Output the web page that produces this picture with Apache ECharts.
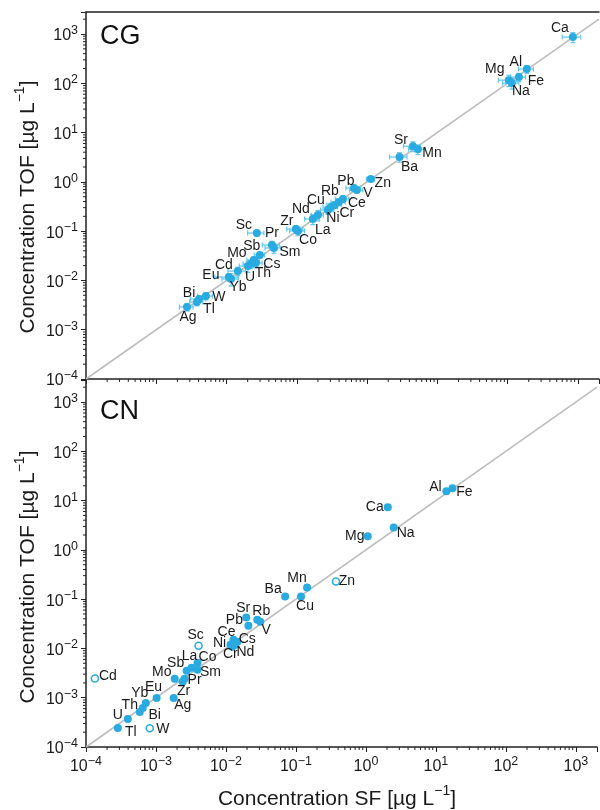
<!DOCTYPE html>
<html><head><meta charset="utf-8">
<script src="https://cdn.jsdelivr.net/npm/echarts@6/dist/echarts.min.js"></script>
<style>html,body{margin:0;padding:0;background:#fff}#c{width:600px;height:810px}</style>
</head><body><div id="c"></div>
<script>
// ---------- data: panel CG ----------
const elementsCG = ['Ca','Al','Fe','Mg','Na','Sr','Mn','Ba','Zn','Pb','V','Ni','Cu','Cr','Rb','Ce','Nd','La','Zr','Co','Sc','Pr','Sm','Sb','Mo','Cs','Th','U','Cd','Eu','Yb','Bi','W','Tl','Ag'];
const sfCG   = [850,188,145,104,115,4.5,5.3,2.9,1.13,0.65,0.716,0.277,0.306,0.348,0.397,0.453,0.20,0.169,0.097,0.104,0.027,0.0443,0.0473,0.0298,0.0245,0.0262,0.0222,0.0202,0.0145,0.0108,0.0116,0.00406,0.00509,0.00379,0.00274];
const tofCG  = [868,195,134,116,101,5.3,4.6,3.2,1.14,0.75,0.682,0.269,0.309,0.339,0.390,0.449,0.212,0.176,0.110,0.101,0.0916,0.0524,0.0455,0.0328,0.0259,0.0225,0.0215,0.0196,0.0155,0.0117,0.0107,0.0042,0.00483,0.00365,0.00289];
const sfErrCG  = [250,45,35,30,30,1.2,1.4,0.8,0.15,0.15,0.15,0.06,0.07,0.08,0.09,0.10,0.04,0.04,0.025,0.025,0.007,0.012,0.012,0.005,0.005,0.006,0.005,0.005,0.004,0.004,0.003,0.001,0.0012,0.0008,0.0006];
const tofErrCG = [200,35,25,30,25,1.2,1.0,0.7,0.10,0.10,0.08,0.05,0.06,0.05,0.06,0.07,0.05,0.04,0.02,0.02,0.012,0.01,0.01,0.004,0.004,0.004,0.004,0.005,0.003,0.002,0.003,0.0006,0.0008,0.0006,0.0005];

// ---------- data: panel CN ----------
const elementsCN = ['Al','Fe','Ca','Na','Mg','Zn','Mn','Cu','Ba','Sr','Pb','Rb','V','Ce','Cs','Ni','Cr','Nd','Sc','Co','La','Sm','Sb','Mo','Pr','Zr','Ag','Eu','Yb','Th','Bi','U','Tl','W','Cd'];
const sfCN  = [14.1,17.2,2.05,2.49,1.06,0.373,0.144,0.118,0.070,0.0195,0.0209,0.028,0.0309,0.0128,0.0145,0.0116,0.0123,0.0136,0.00406,0.00392,0.00322,0.00392,0.00274,0.00185,0.00256,0.0024,0.00179,0.00102,0.000715,0.000647,0.000586,0.000396,0.000285,0.000815,0.000134];
const tofCN = [15.5,17.8,7.3,2.86,1.88,0.228,0.172,0.113,0.113,0.0422,0.029,0.0384,0.035,0.0150,0.0137,0.0119,0.0108,0.0119,0.01135,0.00512,0.00406,0.00369,0.00352,0.00242,0.00242,0.0021,0.00099,0.00099,0.000785,0.000622,0.000515,0.000371,0.000244,0.00024,0.00245];
const sfErrCN  = [0.8,1.0,0.2,0.1,0.05,0.01,0.005,0.004,0.003,0.0008,0.0008,0.001,0.001,0.0005,0.0005,0.0005,0.0005,0.0005,0.0002,0.0002,0.0001,0.0002,0.0001,0.0001,0.0001,0.0001,0.0001,0.00005,0.00003,0.00003,0.00003,0.00002,0.00001,0.00003,0.00001];
const tofErrCN = [0.6,0.7,0.3,0.1,0.08,0.008,0.006,0.004,0.004,0.0015,0.001,0.0015,0.001,0.0005,0.0005,0.0005,0.0004,0.0004,0.0004,0.0002,0.0002,0.0001,0.0001,0.0001,0.0001,0.0001,0.00004,0.00004,0.00003,0.00002,0.00002,0.00001,0.00001,0.00001,0.0001];
const openCN = ['Zn','Sc','W','Cd'];

// ---------- axes ----------
const xRange = [0.0001, 2000];
const yRange = [0.0001, 2800];
const oneToOne = [0.0001, 2000];
const panelNames = ['CG','CN'];
const xTitle = 'Concentration SF [µg L{s|\u22121}]';
const yTitle = 'Concentration TOF [µg L{s|\u22121}]';

// ---------- label placement (style) ----------
const offCG = {Ca:[-13,-9],Al:[-11,-7],Fe:[17,4],Mg:[-14,-11],Na:[9,8],Sr:[-12,-6],Mn:[14,4],Ba:[10,10],Zn:[12,4],Pb:[-8,-7],V:[11,3],Rb:[-9,-11],Cu:[-15,-7],Ce:[14,4],Ni:[5,8],Cr:[12,8],Nd:[-17,-6],La:[10,11],Zr:[-9,-8],Co:[10,9],Sc:[-13,-8],Pr:[0,-12],Sm:[16,4],Sb:[-8,-9],Mo:[-17,-7],Cs:[16,1],Cd:[-14,-6],Th:[12,9],U:[2,11],Eu:[-18,-2],Yb:[7,8],Bi:[-10,-6],W:[13,1],Tl:[12,7],Ag:[1,10]};
const offCN = {Al:[-11,-4],Fe:[12,4],Ca:[-13,0],Na:[12,6],Mg:[-13,0],Zn:[11,0],Mn:[-10,-9],Cu:[4,10],Ba:[-12,-7],Sr:[-3,-9],Pb:[-14,-6],Rb:[4,-9],V:[6,9],Ce:[-7,-8],Cs:[10,-3],Ni:[-11,-2],Cr:[-2,7],Nd:[10,7],Sc:[-3,-11],Co:[10,-6],La:[-2,-12],Sm:[13,2],Sb:[-11,-8],Mo:[-13,-7],Pr:[10,1],Zr:[1,9],Ag:[9,7],Eu:[-3,-11],Yb:[-6,-10],Th:[-13,-3],Bi:[15,3],U:[-10,-4],Tl:[13,4],W:[13,1],Cd:[13,-2]};

const BLUE = '#29abe2', ERR = '#62c6ef', AX = '#222', TXT = '#1a1a1a';
const FONT = '"Liberation Sans", Arial, sans-serif';

function fmtLog(v){
  const l = Math.log10(v), e = Math.round(l);
  if (Math.abs(l - e) > 1e-6) return '';
  return '{b|10}{s|' + (e < 0 ? '\u2212' + (-e) : e) + '}';
}
const richTick = {
  b:{fontSize:16, lineHeight:20, verticalAlign:'bottom', color:TXT, fontFamily:FONT},
  s:{fontSize:12.5, lineHeight:13, verticalAlign:'top', color:TXT, fontFamily:FONT}
};

function xAxisCfg(g, showLabels){
  return {type:'log', logBase:10, gridIndex:g, min:xRange[0], max:xRange[1], position:'bottom',
    axisLine:{show:true, onZero:false, lineStyle:{color:AX, width:1.5}},
    axisTick:{show:true, inside:false, length:5, lineStyle:{color:AX, width:1}},
    axisLabel:{show:showLabels, margin:8, formatter:fmtLog, rich:richTick},
    splitLine:{show:false}, minorTick:{show:false}};
}
function yAxisCfg(g){
  return {type:'log', logBase:10, gridIndex:g, min:yRange[0], max:yRange[1], position:'left',
    axisLine:{show:true, onZero:false, lineStyle:{color:AX, width:1.5}},
    axisTick:{show:true, inside:false, length:5, lineStyle:{color:AX, width:1}},
    axisLabel:{show:true, margin:8, formatter:fmtLog, rich:richTick},
    splitLine:{show:false}, minorTick:{show:false}};
}

// minor tick positions (2..9 x 10^n)
const minorVals = [];
for (let e = -4; e < 4; e++) for (let m = 2; m <= 9; m++) minorVals.push(+(m * Math.pow(10, e)).toPrecision(6));

function yMinorSeries(g){
  return {type:'custom', xAxisIndex:g, yAxisIndex:g, silent:true, clip:false, z:5,
    data: minorVals.filter(v => v < yRange[1]).map(v => [xRange[0], v]),
    renderItem:(p, api) => { const pt = api.coord([api.value(0), api.value(1)]);
      return {type:'line', shape:{x1:pt[0]-3, y1:pt[1], x2:pt[0], y2:pt[1]}, style:{stroke:AX, lineWidth:1}}; }};
}
function xMinorSeries(g){
  return {type:'custom', xAxisIndex:g, yAxisIndex:g, silent:true, clip:false, z:5,
    data: minorVals.filter(v => v < xRange[1]).map(v => [v, yRange[0]]),
    renderItem:(p, api) => { const pt = api.coord([api.value(0), api.value(1)]);
      return {type:'line', shape:{x1:pt[0], y1:pt[1], x2:pt[0], y2:pt[1]+3}, style:{stroke:AX, lineWidth:1}}; }};
}
function errSeries(g, xs, ys, ex, ey){
  return {type:'custom', xAxisIndex:g, yAxisIndex:g, silent:true, clip:false, z:2,
    data: xs.map((x, i) => [x, ys[i], ex[i], ey[i]]),
    renderItem:(p, api) => {
      const x = api.value(0), y = api.value(1), dx = api.value(2), dy = api.value(3);
      const st = {stroke:ERR, lineWidth:1.2};
      const ch = [];
      const l = api.coord([x - dx, y]), r = api.coord([x + dx, y]);
      const t = api.coord([x, y + dy]), b = api.coord([x, y - dy]);
      const c = 2.5;
      ch.push({type:'line', shape:{x1:l[0], y1:l[1], x2:r[0], y2:r[1]}, style:st});
      ch.push({type:'line', shape:{x1:l[0], y1:l[1]-c, x2:l[0], y2:l[1]+c}, style:st});
      ch.push({type:'line', shape:{x1:r[0], y1:r[1]-c, x2:r[0], y2:r[1]+c}, style:st});
      ch.push({type:'line', shape:{x1:t[0], y1:t[1], x2:b[0], y2:b[1]}, style:st});
      ch.push({type:'line', shape:{x1:t[0]-c, y1:t[1], x2:t[0]+c, y2:t[1]}, style:st});
      ch.push({type:'line', shape:{x1:b[0]-c, y1:b[1], x2:b[0]+c, y2:b[1]}, style:st});
      return {type:'group', children:ch};
    }};
}
function scatterSeries(g, names, xs, ys, offs, open){
  return {type:'scatter', xAxisIndex:g, yAxisIndex:g, symbol:'circle', symbolSize:8, z:4, silent:true,
    itemStyle:{color:BLUE, opacity:1},
    label:{show:true, position:'inside', formatter:'{b}', fontSize:14, color:TXT, fontFamily:FONT},
    data: names.map((n, i) => {
      const o = {name:n, value:[xs[i], ys[i]], label:{offset:offs[n] || [0,-10]}};
      if (open && open.indexOf(n) >= 0) { o.itemStyle = {color:'#fff', borderColor:BLUE, borderWidth:1.6}; o.symbolSize = 7; }
      return o;
    })};
}
function diagSeries(g){
  return {type:'line', xAxisIndex:g, yAxisIndex:g, silent:true, symbol:'none', z:1,
    lineStyle:{color:'#bdbdbd', width:1.6},
    data: oneToOne.map(v => [v, v])};
}

const richTitle = {
  b:{fontSize:21, lineHeight:25, verticalAlign:'bottom', fill:TXT, color:TXT, fontFamily:FONT},
  s:{fontSize:14, lineHeight:15, verticalAlign:'top', fill:TXT, color:TXT, fontFamily:FONT}
};
function wrapTitle(t){ return '{b|' + t.replace('{s|', '}{s|').replace('}]', '}{b|]') + '}'; }

const chart = echarts.init(document.getElementById('c'), null, {renderer:'canvas', width:600, height:810});
chart.setOption({
  animation:false,
  backgroundColor:'#fff',
  textStyle:{fontFamily:FONT},
  grid:[
    {left:86, top:12, width:513, height:367},
    {left:86, top:380, width:513, height:367}
  ],
  xAxis:[
    xAxisCfg(0, false),
    xAxisCfg(1, true),
    {type:'value', gridIndex:0, position:'top', axisLine:{show:true, lineStyle:{color:AX, width:1.5}},
     axisTick:{show:false}, axisLabel:{show:false}, splitLine:{show:false}}
  ],
  yAxis:[ yAxisCfg(0), yAxisCfg(1) ],
  series:[
    diagSeries(0), diagSeries(1),
    errSeries(0, sfCG, tofCG, sfErrCG, tofErrCG),
    errSeries(1, sfCN, tofCN, sfErrCN, tofErrCN),
    scatterSeries(0, elementsCG, sfCG, tofCG, offCG, null),
    scatterSeries(1, elementsCN, sfCN, tofCN, offCN, openCN),
    yMinorSeries(0), yMinorSeries(1), xMinorSeries(0), xMinorSeries(1)
  ],
  graphic:[
    {type:'text', x:100, y:37, z:10, style:{text:panelNames[0], fontSize:27, fill:'#111', verticalAlign:'middle', fontFamily:FONT}},
    {type:'text', x:100, y:412, z:10, style:{text:panelNames[1], fontSize:27, fill:'#111', verticalAlign:'middle', fontFamily:FONT}},
    {type:'text', x:26, y:207, rotation:Math.PI/2, z:10, style:{text:wrapTitle(yTitle), rich:richTitle, align:'center', verticalAlign:'middle'}},
    {type:'text', x:26, y:577, rotation:Math.PI/2, z:10, style:{text:wrapTitle(yTitle), rich:richTitle, align:'center', verticalAlign:'middle'}},
    {type:'text', x:337, y:797, z:10, style:{text:wrapTitle(xTitle), rich:richTitle, align:'center', verticalAlign:'middle'}}
  ]
});
</script></body></html>
